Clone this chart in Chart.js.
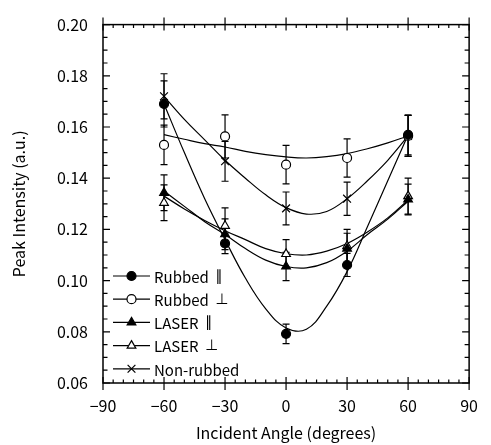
<!DOCTYPE html>
<html lang="en">
<head>
<meta charset="UTF-8">
<title>Peak Intensity vs Incident Angle</title>
<script src="https://cdn.jsdelivr.net/npm/chart.js"></script>
<style>
  body { margin: 0; background: #fff; }
  canvas { display: block; }
</style>
</head>
<body>
<canvas id="chart" width="491" height="445"></canvas>
<script>
    // Measured points
    const angles = [-60, -30, 0, 30, 60];
    const rubbedPar = [0.169, 0.1145, 0.0792, 0.1061, 0.1569];
    const rubbedParErr = [0.009, 0.004, 0.0038, 0.0045, 0.0078];
    const rubbedPerp = [0.153, 0.1563, 0.1453, 0.1479, 0.1565];
    const rubbedPerpErr = [0.0077, 0.0084, 0.0075, 0.0075, 0.008];
    const laserPar = [0.1343, 0.1181, 0.1055, 0.1125, 0.1317];
    const laserParErr = [0.007, 0.006, 0.0055, 0.006, 0.006];
    const laserPerp = [0.1304, 0.1214, 0.1104, 0.1135, 0.133];
    const laserPerpErr = [0.007, 0.007, 0.0056, 0.0065, 0.007];
    const nonRubbed = [0.172, 0.1466, 0.1282, 0.132, 0.1565];
    const nonRubbedErr = [0.0088, 0.0078, 0.0064, 0.0065, 0.008];

    // Fitted curves, every 10 degrees
    const fitAngles = [-60, -50, -40, -30, -20, -10, 0, 10, 20, 30, 40, 50, 60];
    const fitRubbedPar = [0.169, 0.150, 0.132, 0.116, 0.101, 0.089, 0.0815, 0.081, 0.090, 0.1035, 0.121, 0.139, 0.157];
    const fitRubbedPerp = [0.157, 0.1552, 0.1535, 0.1522, 0.1505, 0.1492, 0.1483, 0.1479, 0.1484, 0.1496, 0.1515, 0.1538, 0.1565];
    const fitLaserPar = [0.135, 0.129, 0.123, 0.118, 0.1125, 0.108, 0.1055, 0.105, 0.107, 0.1115, 0.118, 0.124, 0.131];
    const fitLaserPerp = [0.133, 0.128, 0.1235, 0.1195, 0.116, 0.1125, 0.1105, 0.110, 0.1115, 0.1145, 0.119, 0.1245, 0.1315];
    const fitNonRubbed = [0.172, 0.163, 0.155, 0.147, 0.140, 0.1335, 0.1285, 0.126, 0.127, 0.132, 0.139, 0.147, 0.1565];

    const fontFamily = '"Noto Sans CJK JP", "Noto Sans", sans-serif';
    const symbolFamily = '"DejaVu Sans", sans-serif';

    // one entry per series: label, marker, points, errors, curve
    const series = [
        { label: 'Rubbed', mark: '\u2225', style: 'circle', fill: '#000', radius: 4.5, values: rubbedPar, errors: rubbedParErr, fit: fitRubbedPar },
        { label: 'Rubbed', mark: '\u22A5', style: 'circle', fill: '#fff', radius: 4.5, values: rubbedPerp, errors: rubbedPerpErr, fit: fitRubbedPerp },
        { label: 'LASER', mark: '\u2225', style: 'triangle', fill: '#000', radius: 5, values: laserPar, errors: laserParErr, fit: fitLaserPar },
        { label: 'LASER', mark: '\u22A5', style: 'triangle', fill: '#fff', radius: 5, values: laserPerp, errors: laserPerpErr, fit: fitLaserPerp },
        { label: 'Non-rubbed', mark: '', style: 'crossRot', fill: '#fff', radius: 5.5, values: nonRubbed, errors: nonRubbedErr, fit: fitNonRubbed }
    ];

    const datasets = [];
    series.forEach(s => {
        datasets.push({
            label: s.label + ' ' + s.mark + ' fit',
            data: fitAngles.map((a, i) => ({ x: a, y: s.fit[i] })),
            showLine: true,
            borderColor: '#000',
            borderWidth: 1.2,
            pointRadius: 0,
            tension: 0.4,
            order: 2
        });
    });
    series.forEach(s => {
        datasets.push({
            label: s.label + ' ' + s.mark,
            data: angles.map((a, i) => ({ x: a, y: s.values[i] })),
            showLine: false,
            pointStyle: s.style,
            pointRadius: s.radius,
            pointBackgroundColor: s.fill,
            pointBorderColor: '#000',
            pointBorderWidth: 1.2,
            order: 1
        });
    });

    // Error bars, frame with inward ticks, and legend
    const decorations = {
        id: 'decorations',
        beforeDatasetsDraw(chart) {
            const { ctx, scales: { x, y } } = chart;
            ctx.save();
            ctx.strokeStyle = '#000';
            ctx.lineWidth = 1.2;
            series.forEach(s => {
                angles.forEach((a, i) => {
                    const px = x.getPixelForValue(a);
                    const top = y.getPixelForValue(s.values[i] + s.errors[i]);
                    const bot = y.getPixelForValue(s.values[i] - s.errors[i]);
                    ctx.beginPath();
                    ctx.moveTo(px, top); ctx.lineTo(px, bot);
                    ctx.moveTo(px - 3.5, top); ctx.lineTo(px + 3.5, top);
                    ctx.moveTo(px - 3.5, bot); ctx.lineTo(px + 3.5, bot);
                    ctx.stroke();
                });
            });
            ctx.restore();
        },
        afterDraw(chart) {
            const { ctx, chartArea: area, scales: { x, y } } = chart;
            ctx.save();
            ctx.strokeStyle = '#000';
            ctx.lineWidth = 1.5;
            ctx.strokeRect(area.left, area.top, area.right - area.left, area.bottom - area.top);
            ctx.lineWidth = 1.2;
            ctx.beginPath();
            for (let v = -90; v <= 90; v += 5) {
                const px = x.getPixelForValue(v);
                const major = v % 30 === 0;
                const inLen = major ? 6 : 3.5;
                const outLen = major ? 7 : 0;
                ctx.moveTo(px, area.bottom + outLen); ctx.lineTo(px, area.bottom - inLen);
                ctx.moveTo(px, area.top - outLen); ctx.lineTo(px, area.top + inLen);
            }
            for (let k = 0; k <= 28; k++) {
                const v = 0.06 + k * 0.005;
                const py = y.getPixelForValue(v);
                const inLen = k % 4 === 0 ? 7 : 4.5;
                ctx.moveTo(area.left, py); ctx.lineTo(area.left + inLen, py);
                ctx.moveTo(area.right, py); ctx.lineTo(area.right - inLen, py);
            }
            ctx.stroke();

            // legend inside the plot
            const lx = area.left + 10;
            const firstY = area.bottom - 107;
            ctx.textBaseline = 'middle';
            series.forEach((s, i) => {
                const ly = firstY + i * 23.2;
                ctx.lineWidth = 1.2;
                ctx.strokeStyle = '#000';
                ctx.beginPath();
                ctx.moveTo(lx, ly); ctx.lineTo(lx + 37, ly);
                ctx.stroke();
                ctx.fillStyle = s.fill;
                Chart.helpers.drawPoint(ctx, { pointStyle: s.style, radius: s.radius, rotation: 0, borderWidth: 1.2 }, lx + 18.5, ly);
                ctx.fillStyle = '#000';
                ctx.font = '15px ' + fontFamily;
                ctx.fillText(s.label, lx + 41, ly + 1);
                if (s.mark) {
                    const w = ctx.measureText(s.label + ' ').width;
                    ctx.font = '15px ' + symbolFamily;
                    ctx.fillText(s.mark, lx + 41 + w + 3, ly + 1);
                }
            });
            ctx.restore();
        }
    };

    const tickFont = { family: fontFamily, size: 16 };

    new Chart(document.getElementById('chart').getContext('2d'), {
        type: 'scatter',
        data: { datasets: datasets },
        options: {
            responsive: false,
            animation: false,
            layout: { padding: { top: 22, right: 7, left: 0, bottom: 0 } },
            plugins: {
                legend: { display: false },
                tooltip: { enabled: false }
            },
            scales: {
                x: {
                    type: 'linear',
                    min: -90,
                    max: 90,
                    grid: { display: false, drawTicks: false },
                    border: { display: false },
                    ticks: {
                        stepSize: 30,
                        padding: 13,
                        color: '#000',
                        font: tickFont,
                        callback: v => String(v).replace('-', '\u2212')
                    },
                    title: {
                        display: true,
                        text: 'Incident Angle (degrees)',
                        color: '#000',
                        font: tickFont,
                        padding: { top: 0, bottom: 2 }
                    },
                    afterFit: scale => { scale.height = 62; }
                },
                y: {
                    type: 'linear',
                    min: 0.06,
                    max: 0.20,
                    grid: { display: false, drawTicks: false },
                    border: { display: false },
                    ticks: {
                        stepSize: 0.02,
                        padding: 15,
                        color: '#000',
                        font: tickFont,
                        callback: v => v.toFixed(2)
                    },
                    title: {
                        display: true,
                        text: 'Peak Intensity (a.u.)',
                        color: '#000',
                        font: tickFont,
                        padding: { top: 9, bottom: 0 }
                    },
                    afterFit: scale => { scale.width = 103; }
                }
            }
        },
        plugins: [decorations]
    });
</script>
</body>
</html>
